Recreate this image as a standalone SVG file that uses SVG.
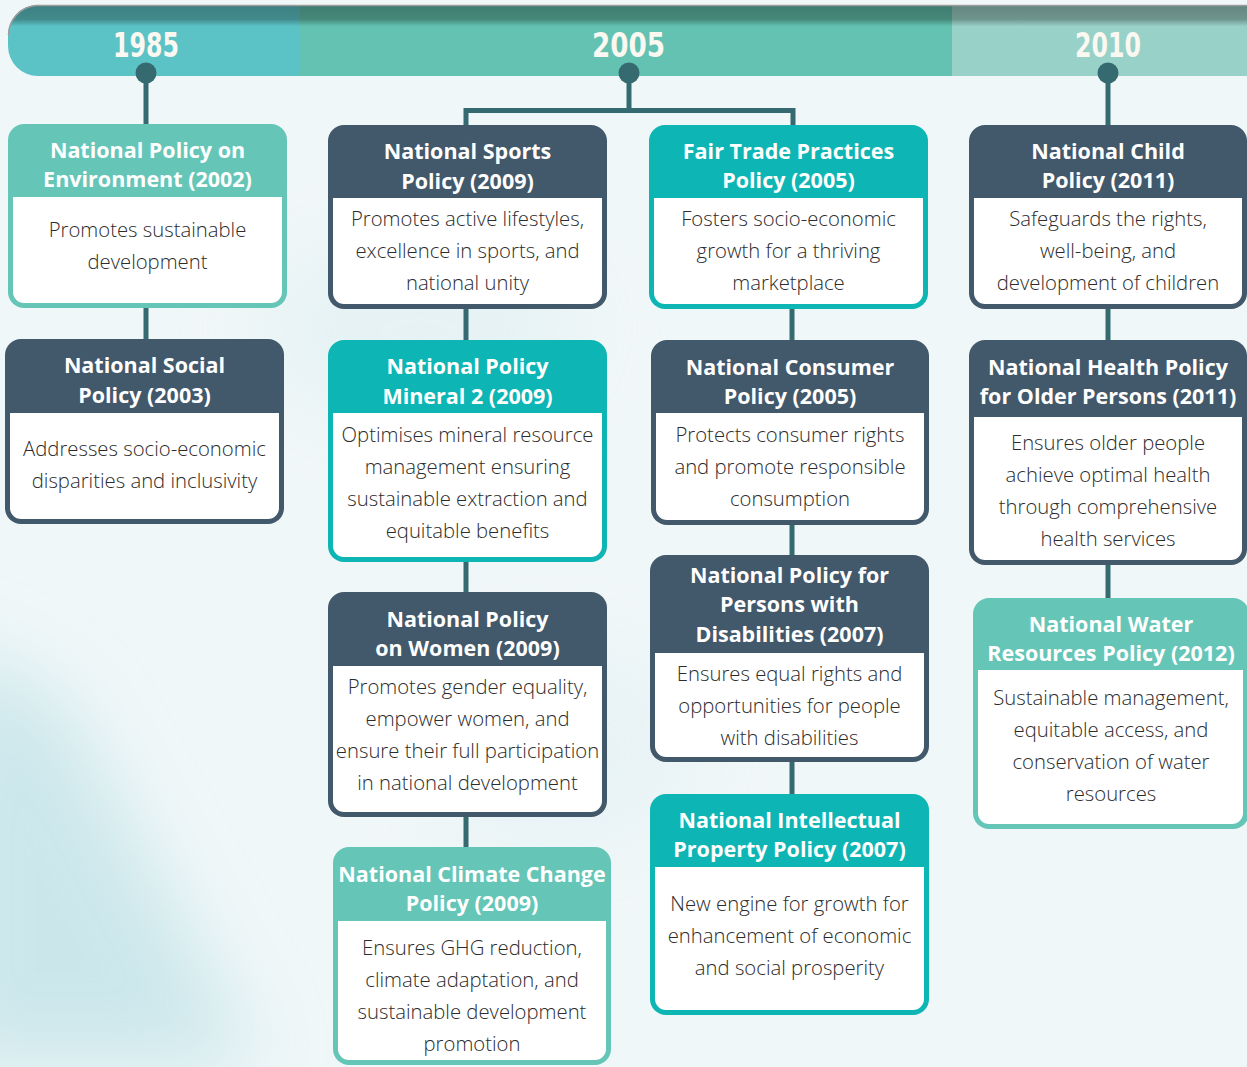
<svg xmlns="http://www.w3.org/2000/svg" width="1247" height="1067" viewBox="0 0 1247 1067">
<defs>
<style>
.title{font-family:"Open Sans","Liberation Sans",sans-serif;font-weight:700;font-size:21.5px;fill:#ffffff;text-anchor:middle}
.body{font-family:"Open Sans","Liberation Sans",sans-serif;font-weight:300;font-size:20.3px;fill:#2c2c2c;text-anchor:middle}
.year{font-family:"DejaVu Sans Condensed","DejaVu Sans",sans-serif;font-weight:700;font-size:33px;fill:#FBF8F2;text-anchor:middle}
.conn{stroke:#356B70;stroke-width:5;fill:none}
.dot{fill:#356B70}
.dark{fill:#42586B}
.teal{fill:#0DB6B4}
.mint{fill:#65C6B8}
.inner{fill:#ffffff}
</style>
<linearGradient id="g1" x1="0" y1="0" x2="0" y2="1">
<stop offset="0" stop-color="#3C7F82"/><stop offset="0.2" stop-color="#428A8C"/><stop offset="0.3" stop-color="#5BC3C6"/><stop offset="1" stop-color="#5BC3C6"/>
</linearGradient>
<linearGradient id="g2" x1="0" y1="0" x2="0" y2="1">
<stop offset="0" stop-color="#3F7B70"/><stop offset="0.2" stop-color="#46887A"/><stop offset="0.3" stop-color="#63C2B1"/><stop offset="1" stop-color="#63C2B1"/>
</linearGradient>
<linearGradient id="g3" x1="0" y1="0" x2="0" y2="1">
<stop offset="0" stop-color="#63867F"/><stop offset="0.2" stop-color="#6E958D"/><stop offset="0.3" stop-color="#98D1C7"/><stop offset="1" stop-color="#98D1C7"/>
</linearGradient>
<clipPath id="bar"><path d="M36 5 H1247 V76 H38 A30 30 0 0 1 8 46 V35 A30 30 0 0 1 36 5 Z"/></clipPath>
<filter id="blur" x="-50%" y="-50%" width="200%" height="200%"><feGaussianBlur stdDeviation="40"/></filter>
</defs>
<rect width="1247" height="1067" fill="#F0F7F8"/>
<g filter="url(#blur)" opacity="0.8">
<path d="M-60 640 L60 700 L260 1067 L-60 1067 Z" fill="#C2E3E8"/>
<ellipse cx="420" cy="330" rx="160" ry="90" fill="#E3F1F3"/>
<ellipse cx="560" cy="750" rx="140" ry="100" fill="#E6F2F4"/>
</g>
<g id="timeline">
<g clip-path="url(#bar)">
<rect x="0" y="5" width="300" height="71" fill="url(#g1)"/>
<rect x="300" y="5" width="652" height="71" fill="url(#g2)"/>
<rect x="952" y="5" width="295" height="71" fill="url(#g3)"/>
</g>
<path d="M1247 5.5 H36 A30 30 0 0 0 8.5 35" stroke="#9C9C9C" stroke-width="1.5" fill="none"/>
<text class="year" x="146" y="57" textLength="66" lengthAdjust="spacingAndGlyphs">1985</text>
<text class="year" x="628.5" y="57" textLength="73" lengthAdjust="spacingAndGlyphs">2005</text>
<text class="year" x="1108" y="57" textLength="66" lengthAdjust="spacingAndGlyphs">2010</text>
</g>
<g id="connectors">
<line class="conn" x1="146" y1="73" x2="146" y2="126"/>
<line class="conn" x1="146" y1="306" x2="146" y2="341"/>
<line class="conn" x1="629" y1="73" x2="629" y2="110.5"/>
<polyline class="conn" points="466,127 466,110.5 793,110.5 793,127"/>
<line class="conn" x1="466" y1="307" x2="466" y2="342"/>
<line class="conn" x1="466" y1="560" x2="466" y2="594"/>
<line class="conn" x1="466" y1="815" x2="466" y2="849"/>
<line class="conn" x1="792" y1="307" x2="792" y2="342"/>
<line class="conn" x1="792" y1="523" x2="792" y2="557"/>
<line class="conn" x1="792" y1="760" x2="792" y2="796"/>
<line class="conn" x1="1108" y1="73" x2="1108" y2="127"/>
<line class="conn" x1="1108" y1="307" x2="1108" y2="342"/>
<line class="conn" x1="1108" y1="563" x2="1108" y2="600"/>
<circle class="dot" cx="146" cy="73" r="10.5"/>
<circle class="dot" cx="629" cy="73" r="10.5"/>
<circle class="dot" cx="1108" cy="73" r="10.5"/>
</g>
<g id="node-env">
<rect class="mint" x="8" y="124" width="279" height="184" rx="16"/>
<path class="inner" d="M13 197 H282 V292 A11 11 0 0 1 271 303 H24 A11 11 0 0 1 13 292 Z"/>
<text class="title" x="147.5" y="158">National Policy on</text>
<text class="title" x="147.5" y="187">Environment (2002)</text>
<text class="body" x="147.5" y="237">Promotes sustainable</text>
<text class="body" x="147.5" y="269">development</text>
</g>
<g id="node-social">
<rect class="dark" x="5" y="339" width="279" height="185" rx="16"/>
<path class="inner" d="M10 413 H279 V508 A11 11 0 0 1 268 519 H21 A11 11 0 0 1 10 508 Z"/>
<text class="title" x="144.5" y="373">National Social</text>
<text class="title" x="144.5" y="403">Policy (2003)</text>
<text class="body" x="144.5" y="456">Addresses socio-economic</text>
<text class="body" x="144.5" y="488">disparities and inclusivity</text>
</g>
<g id="node-sports">
<rect class="dark" x="328" y="125" width="279" height="184" rx="16"/>
<path class="inner" d="M333 198 H602 V293 A11 11 0 0 1 591 304 H344 A11 11 0 0 1 333 293 Z"/>
<text class="title" x="467.5" y="159">National Sports</text>
<text class="title" x="467.5" y="189">Policy (2009)</text>
<text class="body" x="467.5" y="226">Promotes active lifestyles,</text>
<text class="body" x="467.5" y="258">excellence in sports, and</text>
<text class="body" x="467.5" y="290">national unity</text>
</g>
<g id="node-mineral">
<rect class="teal" x="328" y="340" width="279" height="222" rx="16"/>
<path class="inner" d="M333 413 H602 V546 A11 11 0 0 1 591 557 H344 A11 11 0 0 1 333 546 Z"/>
<text class="title" x="467.5" y="374">National Policy</text>
<text class="title" x="467.5" y="404">Mineral 2 (2009)</text>
<text class="body" x="467.5" y="442">Optimises mineral resource</text>
<text class="body" x="467.5" y="474">management ensuring</text>
<text class="body" x="467.5" y="506">sustainable extraction and</text>
<text class="body" x="467.5" y="538">equitable benefits</text>
</g>
<g id="node-women">
<rect class="dark" x="328" y="592" width="279" height="225" rx="16"/>
<path class="inner" d="M333 666 H602 V801 A11 11 0 0 1 591 812 H344 A11 11 0 0 1 333 801 Z"/>
<text class="title" x="467.5" y="627">National Policy</text>
<text class="title" x="467.5" y="656">on Women (2009)</text>
<text class="body" x="467.5" y="694">Promotes gender equality,</text>
<text class="body" x="467.5" y="726">empower women, and</text>
<text class="body" x="467.5" y="758">ensure their full participation</text>
<text class="body" x="467.5" y="790">in national development</text>
</g>
<g id="node-climate">
<rect class="mint" x="333" y="847" width="278" height="218" rx="16"/>
<path class="inner" d="M338 921 H606 V1049 A11 11 0 0 1 595 1060 H349 A11 11 0 0 1 338 1049 Z"/>
<text class="title" x="472" y="882">National Climate Change</text>
<text class="title" x="472" y="911">Policy (2009)</text>
<text class="body" x="472" y="955">Ensures GHG reduction,</text>
<text class="body" x="472" y="987">climate adaptation, and</text>
<text class="body" x="472" y="1019">sustainable development</text>
<text class="body" x="472" y="1051">promotion</text>
</g>
<g id="node-fairtrade">
<rect class="teal" x="649" y="125" width="279" height="184" rx="16"/>
<path class="inner" d="M654 198 H923 V293 A11 11 0 0 1 912 304 H665 A11 11 0 0 1 654 293 Z"/>
<text class="title" x="788.5" y="159">Fair Trade Practices</text>
<text class="title" x="788.5" y="188">Policy (2005)</text>
<text class="body" x="788.5" y="226">Fosters socio-economic</text>
<text class="body" x="788.5" y="258">growth for a thriving</text>
<text class="body" x="788.5" y="290">marketplace</text>
</g>
<g id="node-consumer">
<rect class="dark" x="651" y="340" width="278" height="185" rx="16"/>
<path class="inner" d="M656 413 H924 V509 A11 11 0 0 1 913 520 H667 A11 11 0 0 1 656 509 Z"/>
<text class="title" x="790" y="375">National Consumer</text>
<text class="title" x="790" y="404">Policy (2005)</text>
<text class="body" x="790" y="442">Protects consumer rights</text>
<text class="body" x="790" y="474">and promote responsible</text>
<text class="body" x="790" y="506">consumption</text>
</g>
<g id="node-disabilities">
<rect class="dark" x="650" y="555" width="279" height="207" rx="16"/>
<path class="inner" d="M655 653 H924 V746 A11 11 0 0 1 913 757 H666 A11 11 0 0 1 655 746 Z"/>
<text class="title" x="789.5" y="583">National Policy for</text>
<text class="title" x="789.5" y="612">Persons with</text>
<text class="title" x="789.5" y="642">Disabilities (2007)</text>
<text class="body" x="789.5" y="681">Ensures equal rights and</text>
<text class="body" x="789.5" y="713">opportunities for people</text>
<text class="body" x="789.5" y="745">with disabilities</text>
</g>
<g id="node-ip">
<rect class="teal" x="650" y="794" width="279" height="221" rx="16"/>
<path class="inner" d="M655 867 H924 V999 A11 11 0 0 1 913 1010 H666 A11 11 0 0 1 655 999 Z"/>
<text class="title" x="789.5" y="828">National Intellectual</text>
<text class="title" x="789.5" y="857">Property Policy (2007)</text>
<text class="body" x="789.5" y="911">New engine for growth for</text>
<text class="body" x="789.5" y="943">enhancement of economic</text>
<text class="body" x="789.5" y="975">and social prosperity</text>
</g>
<g id="node-child">
<rect class="dark" x="969" y="125" width="278" height="184" rx="16"/>
<path class="inner" d="M974 198 H1242 V293 A11 11 0 0 1 1231 304 H985 A11 11 0 0 1 974 293 Z"/>
<text class="title" x="1108" y="159">National Child</text>
<text class="title" x="1108" y="188">Policy (2011)</text>
<text class="body" x="1108" y="226">Safeguards the rights,</text>
<text class="body" x="1108" y="258">well-being, and</text>
<text class="body" x="1108" y="290">development of children</text>
</g>
<g id="node-health">
<rect class="dark" x="969" y="340" width="278" height="225" rx="16"/>
<path class="inner" d="M974 417 H1242 V549 A11 11 0 0 1 1231 560 H985 A11 11 0 0 1 974 549 Z"/>
<text class="title" x="1108" y="375">National Health Policy</text>
<text class="title" x="1108" y="404">for Older Persons (2011)</text>
<text class="body" x="1108" y="450">Ensures older people</text>
<text class="body" x="1108" y="482">achieve optimal health</text>
<text class="body" x="1108" y="514">through comprehensive</text>
<text class="body" x="1108" y="546">health services</text>
</g>
<g id="node-water">
<rect class="mint" x="973" y="598" width="276" height="231" rx="16"/>
<path class="inner" d="M978 670 H1243 V813 A11 11 0 0 1 1232 824 H989 A11 11 0 0 1 978 813 Z"/>
<text class="title" x="1111" y="632">National Water</text>
<text class="title" x="1111" y="661">Resources Policy (2012)</text>
<text class="body" x="1111" y="705">Sustainable management,</text>
<text class="body" x="1111" y="737">equitable access, and</text>
<text class="body" x="1111" y="769">conservation of water</text>
<text class="body" x="1111" y="801">resources</text>
</g>
</svg>
